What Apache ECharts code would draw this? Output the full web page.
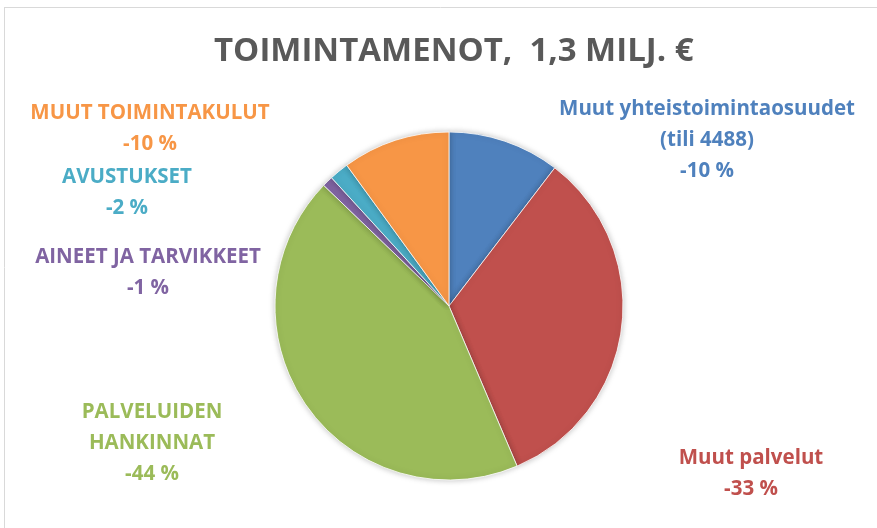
<!DOCTYPE html>
<html>
<head>
<meta charset="utf-8">
<script src="https://cdn.jsdelivr.net/npm/echarts@6/dist/echarts.min.js"></script>
<style>
  html, body { margin: 0; padding: 0; background: #fff; }
  #main { width: 877px; height: 528px; }
</style>
</head>
<body>
<div id="main"></div>
<script>
// data, clockwise from 12 o'clock
var names = ['Muut yhteistoimintaosuudet\n(tili 4488)', 'Muut palvelut', 'PALVELUIDEN\nHANKINNAT', 'AINEET JA TARVIKKEET', 'AVUSTUKSET', 'MUUT TOIMINTAKULUT'];
var values = [10.4, 33.2, 43.6, 1.0, 1.8, 10.0];
var pctLabels = ['-10 %', '-33 %', '-44 %', '-1 %', '-2 %', '-10 %'];
var colors = ['#4F81BD', '#C0504D', '#9BBB59', '#8064A2', '#4BACC6', '#F79646'];

// label anchor (centre of the text block)
var labelPos = [
  [707, 140],
  [751, 474],
  [152, 443],
  [148, 273],
  [127, 193],
  [150, 129]
];

var chart = echarts.init(document.getElementById('main'));

var pieData = values.map(function(v, i) {
  return {
    name: names[i],
    value: v,
    itemStyle: { color: colors[i] },
    label: { color: colors[i] }
  };
});

chart.setOption({
  animation: false,
  title: {
    text: 'TOIMINTAMENOT,  1,3 MILJ. €',
    left: 209,
    top: 30,
    textStyle: {
      fontFamily: 'Open Sans',
      fontSize: 33,
      fontWeight: 'bold',
      color: '#595959'
    }
  },
  graphic: [
    { type: 'line', shape: { x1: 4, y1: 7.5, x2: 877, y2: 7.5 }, style: { stroke: '#d9d9d9', lineWidth: 1 } },
    { type: 'line', shape: { x1: 4.5, y1: 7, x2: 4.5, y2: 528 }, style: { stroke: '#d9d9d9', lineWidth: 1 } }
  ],
  series: [{
    type: 'pie',
    center: [449, 306],
    radius: 174,
    startAngle: 90,
    clockwise: true,
    avoidLabelOverlap: false,
    itemStyle: {
      borderColor: '#ffffff',
      borderWidth: 0.8,
      shadowBlur: 6,
      shadowColor: 'rgba(0,0,0,0.25)'
    },
    label: {
      show: true,
      position: 'outside',
      fontFamily: 'Open Sans',
      fontSize: 20.5,
      fontWeight: 'bold',
      lineHeight: 31,
      align: 'center',
      formatter: function(p) {
        return p.name + '\n' + pctLabels[p.dataIndex];
      }
    },
    labelLine: { show: false },
    labelLayout: function(params) {
      var pos = labelPos[params.dataIndex];
      return { x: pos[0], y: pos[1], align: 'center', verticalAlign: 'middle' };
    },
    emphasis: { disabled: true },
    data: pieData
  }]
});
</script>
</body>
</html>
